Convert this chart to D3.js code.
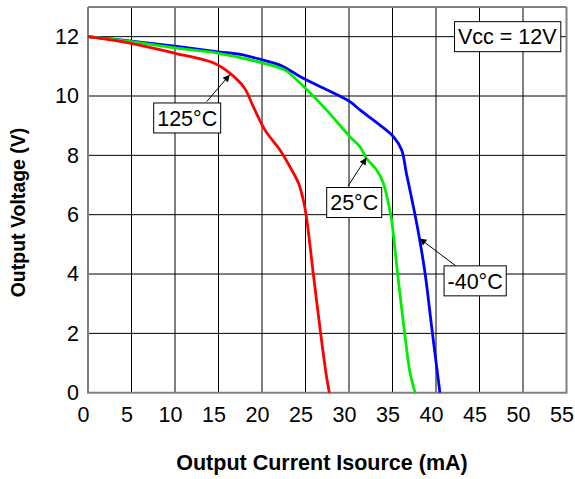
<!DOCTYPE html>
<html lang="en">
<head>
<meta charset="UTF-8">
<title>Output Voltage vs Output Current</title>
<style>
  body { margin: 0; background: #fff; }
  text { font-family: "Liberation Sans", Arial, sans-serif; fill: #000; }
</style>
</head>
<body>
<div id="chart"></div>
<script src="https://d3js.org/d3.v7.min.js"></script>
<script>
// curve data: current (mA), voltage (V)
const coldI = [0, 5, 10, 15, 17.5, 20, 22, 24.9, 27.5, 30.1, 31.26, 33.56, 35.1, 36.05, 36.6, 37.4, 38.1, 38.8, 39.5, 40.45];
const coldV = [12, 11.85, 11.68, 11.49, 11.4, 11.22, 11.05, 10.57, 10.2, 9.81, 9.53, 9.02, 8.63, 8.18, 7.39, 6.27, 5.2, 3.91, 2.22, 0];

const roomI = [0, 5, 10, 15, 20, 22.6, 24.4, 27.5, 30.1, 31.26, 32.0, 33.2, 33.95, 34.5, 34.9, 35.15, 35.67, 36.4, 37.0, 37.6];
const roomV = [12, 11.83, 11.62, 11.44, 11.12, 10.88, 10.43, 9.5, 8.63, 8.29, 7.9, 7.5, 7.06, 6.42, 5.82, 5.2, 3.8, 2.0, 0.7, 0];

const hotI = [0, 4.8, 10, 14.4, 16.3, 18.0, 19.0, 20.35, 22.07, 23.2, 24.2, 24.75, 25.1, 25.9, 26.74, 27.36, 27.74];
const hotV = [12, 11.78, 11.44, 11.12, 10.77, 10.26, 9.64, 8.85, 8.18, 7.62, 7.06, 6.49, 5.93, 4.0, 2.0, 0.65, 0];

const xTicks = [0, 5, 10, 15, 20, 25, 30, 35, 40, 45, 50, 55];
const yTicks = [0, 2, 4, 6, 8, 10, 12];

// label text, label centre [mA, V], arrow tail [mA, V], arrow tip [mA, V]
const labelText = ["125°C", "25°C", "-40°C"];
const labelAt = [[11.4, 9.26], [30.6, 6.41], [44.5, 3.77]];
const arrowFrom = [[13.64, 9.81], [29.9, 6.97], [42.3, 4.27]];
const arrowTo = [[16.3, 10.72], [32.0, 7.92], [38.1, 5.2]];

const condText = "Vcc = 12V";
const condAt = [48.2, 12.0];

const W = 575, H = 479;
const margin = { top: 7, right: 8.5, bottom: 86.3, left: 88 };
const width = W - margin.left - margin.right;
const height = H - margin.top - margin.bottom;

const svg = d3.select("#chart").append("svg")
  .attr("width", W)
  .attr("height", H);

const g = svg.append("g")
  .attr("transform", `translate(${margin.left},${margin.top})`);

const x = d3.scaleLinear().domain([0, 55]).range([0, width]);
const y = d3.scaleLinear().domain([0, 13]).range([height, 0]);

// grid
g.selectAll(".vgrid")
  .data(xTicks.slice(1, -1))
  .enter().append("line")
  .attr("x1", d => x(d)).attr("x2", d => x(d))
  .attr("y1", 0).attr("y2", height)
  .attr("stroke", "#000").attr("stroke-width", 1);

g.selectAll(".hgrid")
  .data(yTicks.slice(1).concat([13]))
  .enter().append("line")
  .attr("x1", 0).attr("x2", width)
  .attr("y1", d => y(d)).attr("y2", d => y(d))
  .attr("stroke", d => d === 13 ? "#808080" : "#000")
  .attr("stroke-width", d => d === 13 ? 2 : 1);

// frame: left, bottom, right in grey
g.append("path")
  .attr("d", `M0,0V${height}H${width}V0`)
  .attr("fill", "none")
  .attr("stroke", "#808080")
  .attr("stroke-width", 2);

// tick labels
const xAxis = g.append("g")
  .attr("transform", `translate(0,${height})`)
  .call(d3.axisBottom(x).tickValues(xTicks).tickSize(0).tickPadding(14));
xAxis.select(".domain").remove();
xAxis.selectAll("text")
  .attr("dx", -5)
  .style("font-size", "21.5px")
  .style("font-family", "'Liberation Sans', Arial, sans-serif");

const yAxis = g.append("g")
  .call(d3.axisLeft(y).tickValues(yTicks).tickSize(0).tickPadding(9));
yAxis.select(".domain").remove();
yAxis.selectAll("text")
  .style("font-size", "21.5px")
  .style("font-family", "'Liberation Sans', Arial, sans-serif");

// curves
const line = d3.line()
  .x(d => x(d[0]))
  .y(d => y(d[1]))
  .curve(d3.curveCatmullRom.alpha(0.5));

const series = [
  { i: coldI, v: coldV, color: "#0000ff" },
  { i: roomI, v: roomV, color: "#00ee00" },
  { i: hotI, v: hotV, color: "#ff0000" }
];

series.forEach(s => {
  g.append("path")
    .datum(s.i.map((d, k) => [d, s.v[k]]))
    .attr("fill", "none")
    .attr("stroke", s.color)
    .attr("stroke-width", 2.8)
    .attr("stroke-linejoin", "round")
    .attr("d", line);
});

// arrow marker
svg.append("defs").append("marker")
  .attr("id", "head")
  .attr("viewBox", "0 0 10 10")
  .attr("refX", 10).attr("refY", 5)
  .attr("markerWidth", 10).attr("markerHeight", 7)
  .attr("markerUnits", "userSpaceOnUse")
  .attr("orient", "auto")
  .append("path")
  .attr("d", "M0,0L10,5L0,10Z")
  .attr("fill", "#000");

function boxLabel(txt, at) {
  const lg = g.append("g");
  const t = lg.append("text")
    .attr("x", x(at[0]))
    .attr("y", y(at[1]))
    .attr("dy", "0.36em")
    .attr("text-anchor", "middle")
    .style("font-size", "21.5px")
    .text(txt);
  const bb = t.node().getBBox();
  lg.insert("rect", "text")
    .attr("x", bb.x - 3.5)
    .attr("y", y(at[1]) - 15)
    .attr("width", bb.width + 7)
    .attr("height", 30)
    .attr("fill", "#fff")
    .attr("stroke", "#000")
    .attr("stroke-width", 1);
}

labelText.forEach((txt, k) => {
  g.append("line")
    .attr("x1", x(arrowFrom[k][0])).attr("y1", y(arrowFrom[k][1]))
    .attr("x2", x(arrowTo[k][0])).attr("y2", y(arrowTo[k][1]))
    .attr("stroke", "#000")
    .attr("stroke-width", 1)
    .attr("marker-end", "url(#head)");
  boxLabel(txt, labelAt[k]);
});

boxLabel(condText, condAt);

// titles
svg.append("text")
  .attr("x", 322)
  .attr("y", 470)
  .attr("text-anchor", "middle")
  .style("font-size", "21.5px")
  .style("font-weight", "bold")
  .text("Output Current Isource (mA)");

svg.append("text")
  .attr("transform", "rotate(-90)")
  .attr("x", -212.5)
  .attr("y", 25)
  .attr("text-anchor", "middle")
  .style("font-size", "19.5px")
  .style("font-weight", "bold")
  .text("Output Voltage (V)");
</script>
</body>
</html>
